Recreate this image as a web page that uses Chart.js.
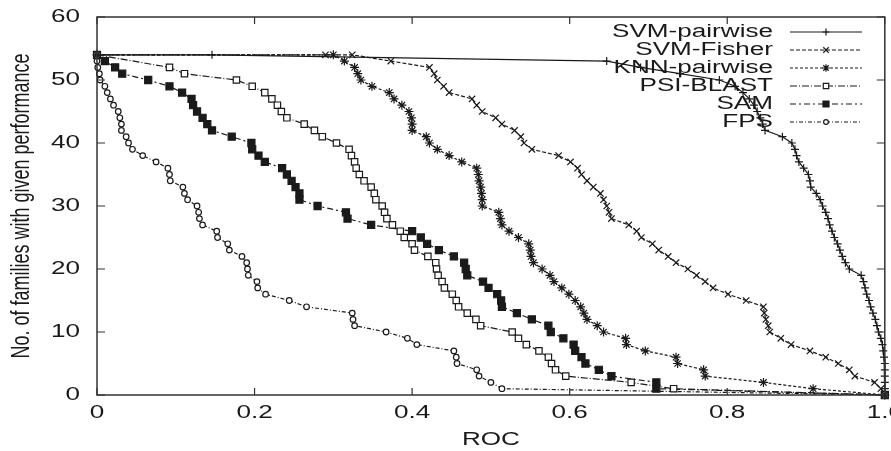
<!DOCTYPE html>
<html>
<head>
<meta charset="utf-8">
<style>
  html, body { margin: 0; padding: 0; background: #fff; }
  #wrap { width: 891px; height: 451px; }
</style>
</head>
<body>
<div id="wrap"><canvas id="chart" width="891" height="451"></canvas></div>
<script src="https://cdn.jsdelivr.net/npm/chart.js@4.4.1/dist/chart.umd.min.js"></script>
<script>
// [ROC, number of families]
const svmPairwise = [
  [0, 54], [0.146, 54], [0.647, 53], [0.69, 52], [0.74, 51], [0.79, 50], [0.81, 49], [0.82, 48],
  [0.828, 47], [0.834, 46], [0.838, 45], [0.842, 44], [0.845, 43], [0.848, 42], [0.87, 41],
  [0.882, 40], [0.886, 39], [0.888, 38], [0.891, 37], [0.897, 36], [0.903, 35], [0.905, 34],
  [0.906, 33], [0.913, 32], [0.918, 31], [0.921, 30], [0.925, 29], [0.928, 28], [0.93, 27],
  [0.933, 26], [0.936, 25], [0.94, 24], [0.943, 23], [0.946, 22], [0.95, 21], [0.955, 20],
  [0.97, 19], [0.973, 18], [0.975, 17], [0.977, 16], [0.98, 15], [0.982, 14], [0.985, 13],
  [0.988, 12], [0.99, 11], [0.992, 10], [0.995, 9], [0.997, 8], [0.998, 7], [0.999, 6],
  [1, 5], [1, 4], [1, 3], [1, 2], [1, 1], [1, 0]
];
const svmFisher = [
  [0, 54], [0.29, 54], [0.324, 54], [0.373, 53], [0.422, 52], [0.428, 51], [0.432, 50],
  [0.44, 49], [0.447, 48], [0.476, 47], [0.482, 46], [0.489, 45], [0.506, 44], [0.514, 43],
  [0.53, 42], [0.538, 41], [0.542, 40], [0.552, 39], [0.586, 38], [0.601, 37], [0.61, 36],
  [0.615, 35], [0.622, 34], [0.63, 33], [0.639, 32], [0.643, 31], [0.647, 30], [0.65, 29],
  [0.653, 28], [0.675, 27], [0.685, 26], [0.691, 25], [0.705, 24], [0.713, 23], [0.725, 22],
  [0.735, 21], [0.75, 20], [0.761, 19], [0.772, 18], [0.782, 17], [0.801, 16], [0.824, 15],
  [0.846, 14], [0.847, 13], [0.849, 12], [0.852, 11], [0.854, 10], [0.868, 9], [0.881, 8],
  [0.905, 7], [0.925, 6], [0.941, 5], [0.955, 4], [0.962, 3], [0.987, 2], [0.995, 1], [1, 0]
];
const knnPairwise = [
  [0, 54], [0.3, 54], [0.314, 53], [0.327, 52], [0.331, 51], [0.335, 50], [0.349, 49],
  [0.371, 48], [0.377, 47], [0.387, 46], [0.396, 45], [0.399, 44], [0.4, 43], [0.4, 42],
  [0.418, 41], [0.422, 40], [0.432, 39], [0.447, 38], [0.463, 37], [0.482, 36], [0.484, 35],
  [0.485, 34], [0.487, 33], [0.488, 32], [0.489, 31], [0.489, 30], [0.51, 29], [0.512, 28],
  [0.514, 27], [0.523, 26], [0.535, 25], [0.548, 24], [0.55, 23], [0.551, 22], [0.554, 21],
  [0.565, 20], [0.575, 19], [0.58, 18], [0.59, 17], [0.599, 16], [0.607, 15], [0.614, 14],
  [0.618, 13], [0.622, 12], [0.635, 11], [0.643, 10], [0.671, 9], [0.672, 8], [0.696, 7],
  [0.735, 6], [0.737, 5], [0.77, 4], [0.772, 3], [0.846, 2], [0.909, 1], [1, 0]
];
const psiBlast = [
  [0, 54], [0.092, 52], [0.111, 51], [0.177, 50], [0.197, 49], [0.213, 48], [0.222, 47],
  [0.229, 46], [0.234, 45], [0.241, 44], [0.263, 43], [0.276, 42], [0.286, 41], [0.304, 40],
  [0.32, 39], [0.323, 38], [0.327, 37], [0.329, 36], [0.333, 35], [0.339, 34], [0.348, 33],
  [0.352, 32], [0.354, 31], [0.362, 30], [0.365, 29], [0.368, 28], [0.375, 27], [0.385, 26],
  [0.39, 25], [0.4, 24], [0.403, 23], [0.42, 22], [0.43, 21], [0.431, 20], [0.433, 19],
  [0.438, 18], [0.441, 17], [0.451, 16], [0.456, 15], [0.459, 14], [0.47, 13], [0.481, 12],
  [0.487, 11], [0.527, 10], [0.535, 9], [0.545, 8], [0.561, 7], [0.573, 6], [0.577, 5],
  [0.582, 4], [0.595, 3], [0.678, 2], [0.732, 1], [1, 0]
];
const sam = [
  [0, 54], [0.01, 53], [0.023, 52], [0.032, 51], [0.065, 50], [0.092, 49], [0.108, 48],
  [0.12, 47], [0.122, 46], [0.127, 45], [0.134, 44], [0.14, 43], [0.146, 42], [0.171, 41],
  [0.196, 40], [0.197, 39], [0.205, 38], [0.213, 37], [0.235, 36], [0.241, 35], [0.247, 34],
  [0.252, 33], [0.257, 32], [0.257, 31], [0.28, 30], [0.316, 29], [0.318, 28], [0.348, 27],
  [0.4, 26], [0.411, 25], [0.419, 24], [0.434, 23], [0.453, 22], [0.466, 21], [0.468, 20],
  [0.47, 19], [0.49, 18], [0.497, 17], [0.508, 16], [0.513, 15], [0.514, 14], [0.533, 13],
  [0.552, 12], [0.573, 11], [0.576, 10], [0.592, 9], [0.605, 8], [0.607, 7], [0.615, 6],
  [0.62, 5], [0.637, 4], [0.653, 3], [0.71, 2], [0.71, 1], [1, 0]
];
const fps = [
  [0, 54], [0, 53], [0.001, 52], [0.003, 51], [0.004, 50], [0.01, 49], [0.013, 48],
  [0.017, 47], [0.021, 46], [0.027, 45], [0.029, 44], [0.031, 43], [0.031, 42], [0.037, 41],
  [0.04, 40], [0.045, 39], [0.058, 38], [0.075, 37], [0.09, 36], [0.092, 35], [0.093, 34],
  [0.109, 33], [0.111, 32], [0.115, 31], [0.127, 30], [0.129, 29], [0.13, 28], [0.134, 27],
  [0.152, 26], [0.153, 25], [0.166, 24], [0.168, 23], [0.184, 22], [0.19, 21], [0.191, 20],
  [0.192, 19], [0.203, 18], [0.204, 17], [0.214, 16], [0.244, 15], [0.266, 14], [0.324, 13],
  [0.325, 12], [0.327, 11], [0.367, 10], [0.394, 9], [0.406, 8], [0.453, 7], [0.456, 6],
  [0.457, 5], [0.482, 4], [0.485, 3], [0.5, 2], [0.514, 1], [1, 0]
];

const seriesNames = ['SVM-pairwise', 'SVM-Fisher', 'KNN-pairwise', 'PSI-BLAST', 'SAM', 'FPS'];
const seriesData = [svmPairwise, svmFisher, knnPairwise, psiBlast, sam, fps];
const xTitle = 'ROC';
const yTitle = 'No. of families with given performance';

const INK = '#1a1a1a';
const FONT = '18px "Liberation Sans", Arial, sans-serif';
const SX = 1.45; // the original text is stretched sideways

const looks = [
  { dash: [], style: 'cross', r: 4, fill: INK },
  { dash: [4, 2], style: 'crossRot', r: 4.5, fill: INK },
  { dash: [3, 2], style: 'star', r: 4.5, fill: INK },
  { dash: [7, 2, 1, 2], style: 'rect', r: 4.5, fill: '#fff' },
  { dash: [6, 3, 2, 3], style: 'rect', r: 5, fill: INK },
  { dash: [4, 2, 1, 2], style: 'circle', r: 2.8, fill: '#fff' }
];

function stretched(ctx, text, x, y, align) {
  ctx.save();
  ctx.translate(x, y);
  ctx.scale(SX, 1);
  ctx.textAlign = align;
  ctx.textBaseline = 'middle';
  ctx.fillText(text, 0, 0);
  ctx.restore();
}

// frame, inward ticks, labels and key in gnuplot style
const gnuFrame = {
  id: 'gnuFrame',
  afterDraw(chart) {
    const { ctx, chartArea: a, scales } = chart;
    ctx.save();
    ctx.strokeStyle = '#333';
    ctx.lineWidth = 1.5;
    ctx.setLineDash([]);
    ctx.strokeRect(a.left, a.top, a.right - a.left, a.bottom - a.top);

    ctx.lineWidth = 1.2;
    ctx.beginPath();
    scales.x.ticks.forEach(t => {
      const px = scales.x.getPixelForValue(t.value);
      ctx.moveTo(px, a.bottom); ctx.lineTo(px, a.bottom - 7);
      ctx.moveTo(px, a.top); ctx.lineTo(px, a.top + 7);
    });
    scales.y.ticks.forEach(t => {
      const py = scales.y.getPixelForValue(t.value);
      ctx.moveTo(a.left, py); ctx.lineTo(a.left + 8, py);
      ctx.moveTo(a.right, py); ctx.lineTo(a.right - 8, py);
    });
    ctx.stroke();

    ctx.fillStyle = INK;
    ctx.font = FONT;
    scales.x.ticks.forEach(t => {
      stretched(ctx, t.label, scales.x.getPixelForValue(t.value), a.bottom + 18, 'center');
    });
    scales.y.ticks.forEach(t => {
      stretched(ctx, t.label, a.left - 17, scales.y.getPixelForValue(t.value), 'right');
    });
    stretched(ctx, xTitle, (a.left + a.right) / 2, a.bottom + 45, 'center');

    ctx.save();
    ctx.translate(22, (a.top + a.bottom) / 2);
    ctx.rotate(-Math.PI / 2);
    ctx.scale(1, SX);
    ctx.textAlign = 'center';
    ctx.textBaseline = 'middle';
    ctx.fillText(yTitle, 0, 0);
    ctx.restore();

    // key, top right inside the frame
    chart.data.datasets.forEach((ds, i) => {
      const y = 32 + i * 18;
      ctx.fillStyle = INK;
      stretched(ctx, ds.label, 773, y, 'right');
      ctx.strokeStyle = INK;
      ctx.lineWidth = 1.2;
      ctx.setLineDash(ds.borderDash);
      ctx.beginPath();
      ctx.moveTo(790, y); ctx.lineTo(862, y);
      ctx.stroke();
      ctx.setLineDash([]);
      ctx.fillStyle = ds.pointBackgroundColor;
      Chart.helpers.drawPoint(ctx, {
        pointStyle: ds.pointStyle, radius: ds.pointRadius * 0.85, rotation: 0, borderWidth: 1.2
      }, 826, y);
    });
    ctx.restore();
  }
};

new Chart(document.getElementById('chart'), {
  type: 'scatter',
  data: {
    datasets: seriesNames.map((name, i) => ({
      label: name,
      data: seriesData[i].map(([x, y]) => ({ x, y })),
      showLine: true,
      borderColor: INK,
      borderWidth: 1.2,
      borderDash: looks[i].dash,
      pointStyle: looks[i].style,
      pointRadius: looks[i].r,
      pointBorderWidth: 1.2,
      pointBorderColor: INK,
      pointBackgroundColor: looks[i].fill,
      clip: false
    }))
  },
  options: {
    responsive: false,
    animation: false,
    events: [],
    layout: { padding: { left: 97, right: 3, top: 17, bottom: 56 } },
    plugins: { legend: { display: false }, tooltip: { enabled: false } },
    scales: {
      x: {
        min: 0, max: 1,
        ticks: { display: false, stepSize: 0.2 },
        grid: { display: false, drawTicks: false },
        border: { display: false },
        afterFit: s => { s.height = 0; s.paddingLeft = 0; s.paddingRight = 0; }
      },
      y: {
        min: 0, max: 60,
        ticks: { display: false, stepSize: 10 },
        grid: { display: false, drawTicks: false },
        border: { display: false },
        afterFit: s => { s.width = 0; s.paddingTop = 0; s.paddingBottom = 0; }
      }
    }
  },
  plugins: [gnuFrame]
});
</script>
</body>
</html>
